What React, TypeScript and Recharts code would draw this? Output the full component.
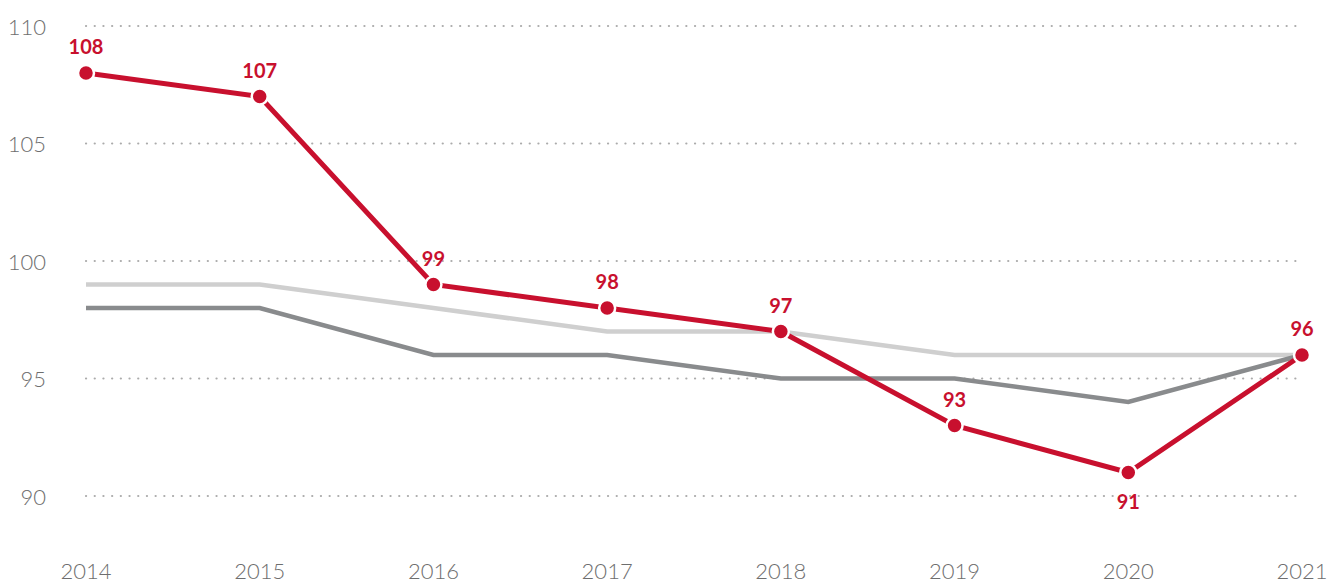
import { LineChart, Line, XAxis, YAxis, CartesianGrid, LabelList } from 'recharts';

const years = ['2014', '2015', '2016', '2017', '2018', '2019', '2020', '2021'];
const mainSeries = [108, 107, 99, 98, 97, 93, 91, 96];
const darkSeries = [98, 98, 96, 96, 95, 95, 94, 96];
const lightSeries = [99, 99, 98, 97, 97, 96, 96, 96];
const yTicks = [90, 95, 100, 105, 110];
const belowLabels = ['2020'];

const RED = '#C8102E';
const DARK = '#898B8D';
const LIGHT = '#CFCFCF';
const AXIS_TEXT = '#6E6E6E';

const data = years.map((year, i) => ({
  year,
  main: mainSeries[i],
  dark: darkSeries[i],
  light: lightSeries[i],
}));

const XTick = ({ x, y, payload }: any) => (
  <text
    x={x}
    y={y + 66}
    textAnchor="middle"
    dominantBaseline="central"
    fill={AXIS_TEXT}
    fontSize={22}
    fontWeight={300}
  >
    {payload.value}
  </text>
);

const YTick = ({ x, y, payload }: any) => (
  <text
    x={x}
    y={y}
    textAnchor="end"
    dominantBaseline="central"
    fill={AXIS_TEXT}
    fontSize={22}
    fontWeight={300}
  >
    {payload.value}
  </text>
);

const PointLabel = ({ x, y, value, index }: any) => {
  const below = belowLabels.includes(years[index]);
  return (
    <text
      x={x}
      y={below ? y + 28 : y - 27}
      textAnchor="middle"
      dominantBaseline="central"
      fill={RED}
      fontSize={20}
      fontWeight={700}
    >
      {value}
    </text>
  );
};

export default function App() {
  return (
    <div style={{ fontFamily: 'Lato, "Open Sans", sans-serif' }}>
      <style>{`body{margin:0}`}</style>
      <LineChart
        width={1344}
        height={583}
        data={data}
        margin={{ top: 26, right: 42, bottom: 0, left: 0 }}
      >
        <CartesianGrid
          horizontal
          vertical={false}
          stroke="#ABABAB"
          strokeWidth={2.2}
          strokeDasharray="0.1 8.6"
          strokeLinecap="round"
        />
        <XAxis
          dataKey="year"
          axisLine={false}
          tickLine={false}
          height={87}
          tick={<XTick />}
          padding={{ left: 0, right: 0 }}
        />
        <YAxis
          domain={[90, 110]}
          ticks={yTicks}
          axisLine={false}
          tickLine={false}
          width={86}
          tick={<YTick />}
          tickMargin={34}
        />
        <Line
          type="linear"
          dataKey="light"
          stroke={LIGHT}
          strokeWidth={4.5}
          dot={false}
          isAnimationActive={false}
        />
        <Line
          type="linear"
          dataKey="dark"
          stroke={DARK}
          strokeWidth={4.5}
          dot={false}
          isAnimationActive={false}
        />
        <Line
          type="linear"
          dataKey="main"
          stroke={RED}
          strokeWidth={5}
          dot={{ r: 8, fill: RED, stroke: '#fff', strokeWidth: 2.5 }}
          isAnimationActive={false}
        >
          <LabelList dataKey="main" content={<PointLabel />} />
        </Line>
      </LineChart>
    </div>
  );
}
